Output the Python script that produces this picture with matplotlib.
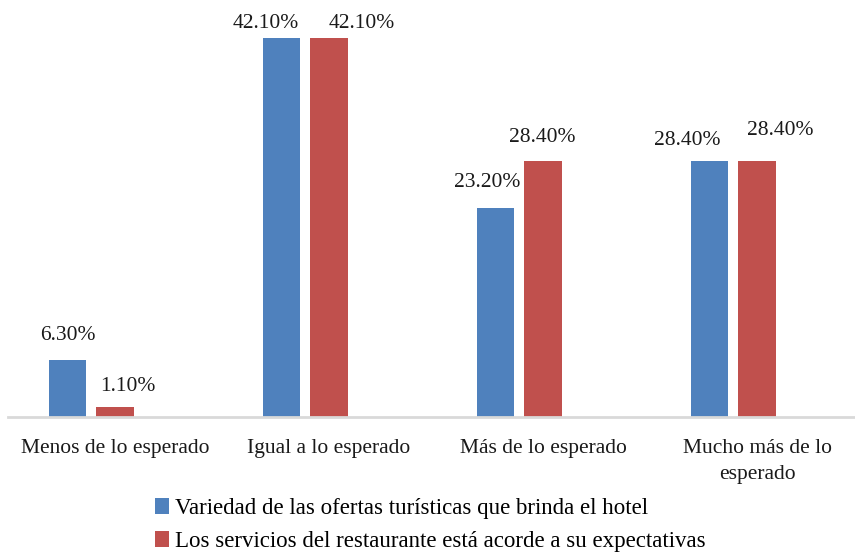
import matplotlib
matplotlib.use("Agg")
import matplotlib.pyplot as plt
import numpy as np

categories = ["Menos de lo esperado", "Igual a lo esperado", "Más de lo esperado", "Mucho más de lo\nesperado"]
series_names = ["Variedad de las ofertas turísticas que brinda el hotel",
                "Los servicios del restaurante está acorde a su expectativas"]
variedad = [6.3, 42.1, 23.2, 28.4]
servicios = [1.1, 42.1, 28.4, 28.4]
value_labels = [["6.30%", "42.10%", "23.20%", "28.40%"],
                ["1.10%", "42.10%", "28.40%", "28.40%"]]

colors = ["#4F81BD", "#C0504D"]
offsets = [-0.222, 0.0]
bar_width = 0.175
# label nudges (pixels) relative to bar top centre
label_dx = [[0, -16, -8, -22], [12.5, 33, -1, 23]]
label_dy = [[25, 14, 25, 21], [21, 14, 24, 31]]

plt.rcParams['font.family'] = ['Liberation Serif', 'DejaVu Serif']
FS = 15.5
LFS = 16.5

W, H = 855, 553
fig = plt.figure(figsize=(W / 100, H / 100), dpi=100)
ax = fig.add_axes([8 / W, 136 / H, 856 / W, 46 * 9.01 / H])

x = np.arange(len(categories))
handles = []
for i, vals in enumerate([variedad, servicios]):
    b = ax.bar(x + offsets[i], vals, width=bar_width, color=colors[i],
               label=series_names[i], zorder=2)
    handles.append(b)
    for j, v in enumerate(vals):
        ax.annotate(value_labels[i][j], xy=(x[j] + offsets[i], v),
                    xytext=(label_dx[i][j], label_dy[i][j]), textcoords='offset pixels',
                    ha='center', va='center', fontsize=FS, color='#1a1a1a')

ax.set_xlim(-0.5, 3.5)
ax.set_ylim(0, 46)
for s in ['top', 'right', 'left']:
    ax.spines[s].set_visible(False)
ax.spines['bottom'].set_color('#d9d9d9')
ax.spines['bottom'].set_linewidth(2)
ax.set_yticks([])
ax.set_xticks(x)
ax.set_xticklabels(categories, fontsize=FS, color='#1a1a1a', linespacing=1.5)
ax.tick_params(axis='x', length=0, pad=16)

fig.legend(handles=handles, labels=series_names, loc='upper left',
           bbox_to_anchor=(155 / W, 1 - 498 / H), bbox_transform=fig.transFigure,
           frameon=False, fontsize=LFS, handlelength=0.63, handleheight=0.7,
           handletextpad=0.26, labelspacing=0.5, borderpad=0, borderaxespad=0)

fig.savefig("out.png", dpi=100)
